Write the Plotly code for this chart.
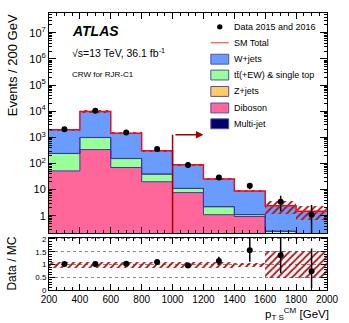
import numpy as np
import plotly.graph_objects as go

# bins of pT_S^CM [GeV]
bin_centers = [300, 500, 700, 900, 1100, 1300, 1500, 1700, 1900]
bin_edges = [200, 400, 600, 800, 1000, 1200, 1400, 1600, 1800, 2000]

# stacked backgrounds (events / 200 GeV), bottom to top
diboson = [52, 340, 70, 20, 7.7, 1.1, 0.94, 0.05, 0.02]
ttbar = [188, 640, 84, 19, 3.3, 1.1, 0.16, 0.2, 0.04]
zjets = [3, 12, 2, 0.5, 0.2, 0.05, 0.02, 0.01, 0.005]
multijet = [0.01, 0.01, 0.01, 0.01, 0.01, 0.01, 0.01, 0.01, 0.01]
wjets = [1700, 8700, 1290, 265, 78, 23, 7.8, 2.15, 1.44]

# relative uncertainty on SM total
sm_unc = [0.11, 0.11, 0.11, 0.11, 0.11, 0.11, 0.08, 0.53, 0.53]

# data
data = [2060, 10300, 1530, 360, 88, 29, 14, 3.4, 1.1]
data_up = [45, 100, 39, 19, 9.4, 5.4, 3.7, 2.4, 1.5]
data_dn = [45, 100, 39, 19, 9.4, 5.4, 3.7, 1.9, 1.0]

# ratio panel
ratio = [1.02, 1.02, 1.03, 1.1, 0.96, 1.14, 1.56, 1.36, 0.73]
ratio_up = [0.03, 0.02, 0.03, 0.06, 0.1, 0.16, 0.5, 0.75, 0.9]
ratio_dn = [0.03, 0.02, 0.03, 0.06, 0.1, 0.16, 0.45, 0.7, 0.65]

ytick_vals = [1, 10, 100, 1e3, 1e4, 1e5, 1e6, 1e7]
ytick_text = ['1', '10', '10<sup>2</sup>', '10<sup>3</sup>', '10<sup>4</sup>',
              '10<sup>5</sup>', '10<sup>6</sup>', '10<sup>7</sup>']

font = 'Liberation Sans, Arial, sans-serif'
edge = '#3a3a9a'
band_red = '#b01010'
sm_red = '#e8101a'
colors = {'W+jets': '#6a9bff', 'ttbar': '#99ff99', 'Z+jets': '#ffcc66',
          'Diboson': '#ff6699', 'Multi-jet': '#000066'}

# cumulative stack heights
c_dib = np.array(diboson)
c_tt = c_dib + np.array(ttbar)
c_z = c_tt + np.array(zjets)
total = c_z + np.array(wjets)
unc = total * np.array(sm_unc)

fig = go.Figure()

# overlay bars, biggest cumulative first
for vals, key in [(total, 'W+jets'), (c_z, 'Z+jets'), (c_tt, 'ttbar'),
                  (c_dib, 'Diboson'), (np.array(multijet), 'Multi-jet')]:
    fig.add_trace(go.Bar(x=bin_centers, y=vals, width=200,
                         marker=dict(color=colors[key], line=dict(width=0)),
                         xaxis='x', yaxis='y'))

# step outlines of the stack components
for vals in [c_z, c_tt, c_dib]:
    fig.add_trace(go.Scatter(x=bin_edges, y=list(vals) + [vals[-1]], mode='lines',
                             line_shape='hv', line=dict(color=edge, width=1),
                             xaxis='x', yaxis='y'))

# uncertainty band, main panel
fig.add_trace(go.Bar(
    x=bin_centers, y=2 * unc, base=total - unc, width=200,
    marker=dict(color=band_red, line=dict(width=0),
                pattern=dict(shape='/', size=5, solidity=0.35, fillmode='replace')),
    hoverinfo='skip', xaxis='x', yaxis='y'))

# SM total line
fig.add_trace(go.Scatter(
    x=bin_edges, y=list(total) + [total[-1]], mode='lines', line_shape='hv',
    line=dict(color=sm_red, width=1.5), xaxis='x', yaxis='y'))

# data
fig.add_trace(go.Scatter(
    x=bin_centers, y=data, mode='markers',
    marker=dict(color='black', size=6),
    error_y=dict(type='data', symmetric=False, array=data_up, arrayminus=data_dn,
                 color='black', thickness=1.5, width=0),
    xaxis='x', yaxis='y'))

# ratio band
r_unc = np.array(sm_unc)
fig.add_trace(go.Bar(
    x=bin_centers, y=2 * r_unc, base=1 - r_unc, width=200,
    marker=dict(color=band_red, line=dict(width=0),
                pattern=dict(shape='/', size=5, solidity=0.35, fillmode='replace')),
    hoverinfo='skip', xaxis='x2', yaxis='y2'))

fig.add_trace(go.Scatter(
    x=bin_centers, y=ratio, mode='markers',
    marker=dict(color='black', size=6),
    error_y=dict(type='data', symmetric=False, array=ratio_up, arrayminus=ratio_dn,
                 color='black', thickness=1.5, width=0),
    xaxis='x2', yaxis='y2'))

# cut arrow at 1000 GeV
fig.add_shape(type='line', x0=1000, x1=1000, y0=0.21, y1=1250, xref='x', yref='y',
              line=dict(color='#a00000', width=1.5))
fig.add_annotation(x=1200, y=np.log10(1250), ax=-31, ay=0, xref='x', yref='y',
                   text=' ', showarrow=True, arrowhead=2, arrowsize=1,
                   arrowwidth=1.5, arrowcolor='#a00000', standoff=0)

axis_common = dict(showline=True, linecolor='black', linewidth=1, mirror='allticks',
                   ticks='inside', tickcolor='black', zeroline=False)

fig.update_layout(
    width=349, height=323,
    margin=dict(l=49, r=20, t=10, b=33),
    paper_bgcolor='white', plot_bgcolor='white',
    barmode='overlay', bargap=0, showlegend=False,
    font=dict(family=font, color='black'),
    xaxis=dict(domain=[0, 1], range=[200, 2000], anchor='y', matches='x2',
               showticklabels=False, dtick=200, ticklen=6, showgrid=False,
               minor=dict(ticks='inside', dtick=50, ticklen=3, tickcolor='black'),
               **axis_common),
    yaxis=dict(domain=[0.204, 1], type='log', range=[-0.678, 7.756], anchor='x',
               tickvals=ytick_vals, ticktext=ytick_text, ticklen=7, showgrid=False,
               tickfont=dict(size=11),
               minor=dict(ticks='inside', dtick='D1', ticklen=3, tickcolor='black'),
               **axis_common),
    xaxis2=dict(domain=[0, 1], range=[200, 2000], anchor='y2', dtick=200, ticklen=6,
                tickfont=dict(size=10), showgrid=False,
                minor=dict(ticks='inside', dtick=50, ticklen=3, tickcolor='black'),
                **axis_common),
    yaxis2=dict(domain=[0, 0.189], range=[0, 2.05], anchor='x2',
                tickvals=[0, 0.5, 1, 1.5, 2], ticktext=['0', '0.5', '1', '1.5', '2'],
                tickfont=dict(size=8), ticklen=6,
                minor=dict(ticks='inside', dtick=0.1, ticklen=3, tickcolor='black'),
                showgrid=True, gridcolor='#888888', griddash='dot', gridwidth=1,
                **axis_common),
)


# pixel -> paper coordinates of the plot area
def px(xp, yp):
    return (xp - 49) / 280, (290 - yp) / 280


for txt, xp, yp, sz in [
    ('<b><i>ATLAS</i></b>', 70, 28, 14),
    ('\u221as=13 TeV, 36.1 fb<sup>-1</sup>', 70, 50, 10.5),
    ('CRW for RJR-C1', 70, 72, 8),
]:
    xx, yy = px(xp, yp)
    fig.add_annotation(text=txt, x=xx, y=yy, xref='paper', yref='paper',
                       xanchor='left', yanchor='middle', showarrow=False,
                       font=dict(size=sz))

# legend drawn by hand (ROOT style spacing)
legend_rows = [
    ('Data 2015 and 2016', 'dot', 'black'),
    ('SM Total', 'line', sm_red),
    ('W+jets', 'box', colors['W+jets']),
    ('tt\u0304(+EW) & single top', 'box', colors['ttbar']),
    ('Z+jets', 'box', colors['Z+jets']),
    ('Diboson', 'box', colors['Diboson']),
    ('Multi-jet', 'box', colors['Multi-jet']),
]
row_y = [24, 40, 56.7, 72.7, 89.3, 106, 122]
for (label, kind, col), yp in zip(legend_rows, row_y):
    x0, y0 = px(212, yp - 5)
    x1, y1 = px(230, yp + 5)
    xm, ym = px(221, yp)
    if kind == 'box':
        fig.add_shape(type='rect', xref='paper', yref='paper', x0=x0, x1=x1,
                      y0=y0, y1=y1, fillcolor=col, line=dict(color='#5050b0', width=1))
    elif kind == 'line':
        fig.add_shape(type='line', xref='paper', yref='paper', x0=x0, x1=x1,
                      y0=ym, y1=ym, line=dict(color='#f07070', width=1.5))
    else:
        r = 2.7 / 280
        fig.add_shape(type='circle', xref='paper', yref='paper', x0=xm - r, x1=xm + r,
                      y0=ym - r, y1=ym + r, fillcolor='black', line=dict(width=0))
    xt, yt = px(233, yp)
    fig.add_annotation(text=label, x=xt, y=yt, xref='paper', yref='paper',
                       xanchor='left', yanchor='middle', showarrow=False,
                       font=dict(size=9))

xx, yy = px(12, 9)
fig.add_annotation(text='Events / 200 GeV', x=xx, y=yy, xref='paper', yref='paper',
                   textangle=-90, xanchor='center', yanchor='top', showarrow=False,
                   font=dict(size=13))
xx, yy = px(12, 263)
fig.add_annotation(text='Data / MC', x=xx, y=yy, xref='paper', yref='paper',
                   textangle=-90, xanchor='center', yanchor='middle', showarrow=False,
                   font=dict(size=12))
xx, yy = px(333, 314)
fig.add_annotation(text='p<sub>T S</sub><sup>CM</sup> [GeV]', x=xx, y=yy,
                   xref='paper', yref='paper', xanchor='right', yanchor='middle',
                   showarrow=False, font=dict(size=11.5))

fig.write_html('out.html', config={'displayModeBar': False},
               post_script="document.body.style.margin='0px';")
